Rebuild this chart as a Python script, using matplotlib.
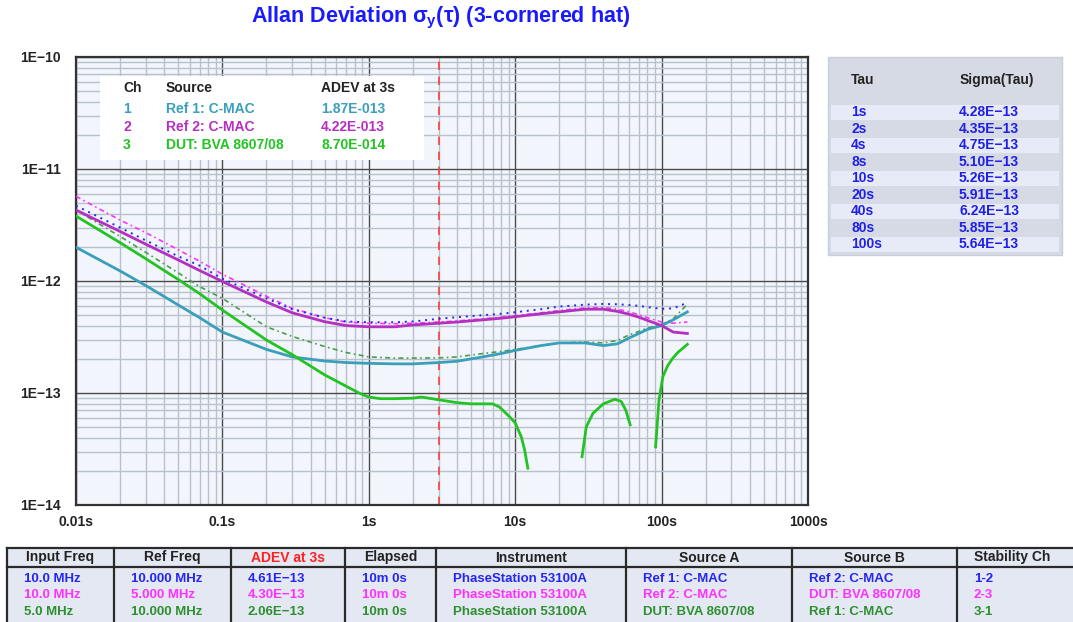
import numpy as np
import matplotlib.pyplot as plt
from matplotlib.patches import Rectangle
from matplotlib.ticker import FixedLocator, FixedFormatter, LogLocator, NullFormatter

plt.rcParams['font.family'] = ['Liberation Sans', 'DejaVu Sans']
plt.rcParams['font.weight'] = 'bold'
plt.rcParams['mathtext.fontset'] = 'custom'
plt.rcParams['mathtext.rm'] = 'Liberation Sans:bold'
plt.rcParams['mathtext.it'] = 'Liberation Sans:bold'
plt.rcParams['mathtext.bf'] = 'Liberation Sans:bold'

# ---- data ----
tau = [0.01, 0.02, 0.03, 0.05, 0.07, 0.1, 0.2, 0.3, 0.5, 0.7, 1, 1.5, 2, 3, 4, 6, 8,
       10, 15, 20, 30, 40, 50, 60, 70, 80, 100, 120, 150]

ch1_ref1 = [2.0e-12, 1.23e-12, 9.1e-13, 6.1e-13, 4.7e-13, 3.5e-13, 2.45e-13, 2.1e-13,
            1.93e-13, 1.87e-13, 1.84e-13, 1.82e-13, 1.82e-13, 1.87e-13, 1.92e-13, 2.1e-13,
            2.25e-13, 2.4e-13, 2.65e-13, 2.8e-13, 2.8e-13, 2.65e-13, 2.75e-13, 3.1e-13,
            3.4e-13, 3.7e-13, 4.0e-13, 4.5e-13, 5.3e-13]
ch2_ref2 = [4.3e-12, 2.77e-12, 2.13e-12, 1.54e-12, 1.24e-12, 9.9e-13, 6.5e-13, 5.2e-13,
            4.33e-13, 4.0e-13, 3.9e-13, 3.9e-13, 4.05e-13, 4.2e-13, 4.3e-13, 4.5e-13,
            4.65e-13, 4.8e-13, 5.1e-13, 5.3e-13, 5.6e-13, 5.6e-13, 5.35e-13, 5.05e-13,
            4.75e-13, 4.45e-13, 4.0e-13, 3.5e-13, 3.4e-13]
pair_12 = [4.7e-12, 3.0e-12, 2.3e-12, 1.66e-12, 1.37e-12, 1.05e-12, 7.0e-13, 5.6e-13,
           4.7e-13, 4.35e-13, 4.28e-13, 4.28e-13, 4.35e-13, 4.6e-13, 4.75e-13, 4.95e-13,
           5.1e-13, 5.26e-13, 5.6e-13, 5.91e-13, 6.15e-13, 6.24e-13, 6.2e-13, 6.1e-13,
           6.0e-13, 5.85e-13, 5.64e-13, 5.7e-13, 6.4e-13]
pair_23 = [5.7e-12, 3.5e-12, 2.7e-12, 1.9e-12, 1.5e-12, 1.15e-12, 7.3e-13, 5.7e-13,
           4.7e-13, 4.3e-13, 4.2e-13, 4.15e-13, 4.2e-13, 4.3e-13, 4.4e-13, 4.6e-13,
           4.75e-13, 4.9e-13, 5.2e-13, 5.45e-13, 5.75e-13, 5.8e-13, 5.6e-13, 5.3e-13,
           5.0e-13, 4.7e-13, 4.3e-13, 4.2e-13, 4.3e-13]
pair_31 = [4.3e-12, 2.5e-12, 1.8e-12, 1.18e-12, 8.9e-13, 7.0e-13, 3.9e-13, 3.2e-13,
           2.6e-13, 2.3e-13, 2.1e-13, 2.05e-13, 2.05e-13, 2.06e-13, 2.1e-13, 2.25e-13,
           2.35e-13, 2.45e-13, 2.65e-13, 2.8e-13, 2.85e-13, 2.8e-13, 2.95e-13, 3.3e-13,
           3.55e-13, 3.8e-13, 4.1e-13, 4.6e-13, 6.2e-13]

# DUT curve is broken into pieces
dut_tau_a = [0.01, 0.02, 0.03, 0.05, 0.07, 0.1, 0.2, 0.3, 0.5, 0.7, 0.87, 1, 1.2, 1.5,
             2, 2.3, 3, 4, 5, 7, 7.8, 9.2, 10, 11, 11.6, 12.2]
dut_val_a = [3.8e-12, 2.2e-12, 1.58e-12, 1.03e-12, 7.7e-13, 5.5e-13, 2.97e-13, 2.2e-13,
             1.45e-13, 1.15e-13, 9.9e-14, 9.2e-14, 8.9e-14, 8.9e-14, 9.0e-14, 9.2e-14,
             8.7e-14, 8.2e-14, 8.0e-14, 8.0e-14, 7.5e-14, 6.1e-14, 5.4e-14, 4.07e-14,
             3.1e-14, 2.13e-14]
dut_tau_b = [28.6, 30.6, 34, 40, 48, 53, 57, 61]
dut_val_b = [2.7e-14, 5.0e-14, 6.6e-14, 8.0e-14, 8.8e-14, 8.4e-14, 7.0e-14, 5.2e-14]
dut_tau_c = [91, 96, 102, 110, 119, 129, 150]
dut_val_c = [3.3e-14, 8.7e-14, 1.4e-13, 1.75e-13, 2.04e-13, 2.3e-13, 2.72e-13]

x_ticks = [0.01, 0.1, 1, 10, 100, 1000]
x_labels = ['0.01s', '0.1s', '1s', '10s', '100s', '1000s']
y_ticks = [1e-14, 1e-13, 1e-12, 1e-11, 1e-10]
y_labels = ['1E\u221214', '1E\u221213', '1E\u221212', '1E\u221211', '1E\u221210']

legend_rows = [('1', 'Ref 1: C-MAC', '1.87E-013'),
               ('2', 'Ref 2: C-MAC', '4.22E-013'),
               ('3', 'DUT: BVA 8607/08', '8.70E-014')]

tau_table = ['1s', '2s', '4s', '8s', '10s', '20s', '40s', '80s', '100s']
sigma_table = ['4.28E\u221213', '4.35E\u221213', '4.75E\u221213', '5.10E\u221213', '5.26E\u221213',
               '5.91E\u221213', '6.24E\u221213', '5.85E\u221213', '5.64E\u221213']

info_headers = ['Input Freq', 'Ref Freq', 'ADEV at 3s', 'Elapsed', 'Instrument',
                'Source A', 'Source B', 'Stability Ch']
info_rows = [
    ['10.0 MHz', '10.000 MHz', '4.61E\u221213', '10m 0s', 'PhaseStation 53100A',
     'Ref 1: C-MAC', 'Ref 2: C-MAC', '1-2'],
    ['10.0 MHz', '5.000 MHz', '4.30E\u221213', '10m 0s', 'PhaseStation 53100A',
     'Ref 2: C-MAC', 'DUT: BVA 8607/08', '2-3'],
    ['5.0 MHz', '10.000 MHz', '2.06E\u221213', '10m 0s', 'PhaseStation 53100A',
     'DUT: BVA 8607/08', 'Ref 1: C-MAC', '3-1'],
]

# colours
c_teal, c_purple, c_green = '#3a9fba', '#b52fc0', '#22c322'
c_blue, c_mag, c_dgreen = '#2626f0', '#ff30ff', '#2e8f2e'
row_colors = [c_blue, c_mag, c_dgreen]

W, H = 1073, 622
def fx(x):
    return x / W
def fy(y):
    return 1 - y / H

fig = plt.figure(figsize=(W / 100, H / 100), dpi=100)
fig.patch.set_facecolor('white')

ax = fig.add_axes([fx(76), fy(505), (808 - 76) / W, (505 - 57) / H])
ax.set_facecolor('#f2f6fc')
ax.set_xscale('log')
ax.set_yscale('log')
ax.set_xlim(0.01, 1000)
ax.set_ylim(1e-14, 1e-10)

ax.xaxis.set_major_locator(FixedLocator(x_ticks))
ax.xaxis.set_major_formatter(FixedFormatter(x_labels))
ax.yaxis.set_major_locator(FixedLocator(y_ticks))
ax.yaxis.set_major_formatter(FixedFormatter(y_labels))
ax.xaxis.set_minor_locator(LogLocator(base=10, subs=np.arange(2, 10), numticks=20))
ax.yaxis.set_minor_locator(LogLocator(base=10, subs=np.arange(2, 10), numticks=20))
ax.xaxis.set_minor_formatter(NullFormatter())
ax.yaxis.set_minor_formatter(NullFormatter())
ax.tick_params(which='both', length=0)
ax.tick_params(axis='x', pad=7, labelsize=10, colors='#222222')
ax.tick_params(axis='y', pad=11, labelsize=10, colors='#222222')
for lab in ax.get_xticklabels() + ax.get_yticklabels():
    lab.set_fontweight('bold')

ax.grid(which='minor', color='#b8c0cc', lw=1.0)
ax.grid(which='major', color='#4a4a4a', lw=1.0)
ax.set_axisbelow(True)
for sp in ax.spines.values():
    sp.set_color('#333333')
    sp.set_linewidth(1.6)

ax.axvline(3, color='#ff3b3b', lw=1.2, ls=(0, (5, 4)), zorder=2)

ax.plot(tau, pair_23, color=c_mag, lw=1.2, ls=(0, (3, 2, 1, 2)), zorder=3)
ax.plot(tau, pair_12, color=c_blue, lw=1.4, ls=(0, (1, 2.5)), zorder=3)
ax.plot(tau, pair_31, color='#4c9c4c', lw=1.2, ls=(0, (3, 2, 1, 2)), zorder=3)
ax.plot(tau, ch1_ref1, color=c_teal, lw=2.0, zorder=4)
ax.plot(tau, ch2_ref2, color=c_purple, lw=2.0, zorder=4)
ax.plot(dut_tau_a, dut_val_a, color=c_green, lw=2.0, zorder=4)
ax.plot(dut_tau_b, dut_val_b, color=c_green, lw=2.0, zorder=4)
ax.plot(dut_tau_c, dut_val_c, color=c_green, lw=2.0, zorder=4)

# title
fig.text(fx(441), fy(18), r'Allan Deviation $\sigma_{y}$(τ) (3-cornered hat)',
         ha='center', va='center', fontsize=15.5, fontweight='bold', color='#1a1aff')

# legend box inside the plot
fig.patches.append(Rectangle((fx(100), fy(160)), (424 - 100) / W, (160 - 76) / H,
                             transform=fig.transFigure, facecolor='white',
                             edgecolor='none', zorder=5))
leg_x = [123, 166, 321]
for x, t in zip(leg_x, ['Ch', 'Source', 'ADEV at 3s']):
    fig.text(fx(x), fy(88), t, ha='left', va='center', fontsize=10,
             fontweight='bold', color='#222222', zorder=6)
for i, (row, c) in enumerate(zip(legend_rows, [c_teal, c_purple, c_green])):
    for x, t in zip(leg_x, row):
        fig.text(fx(x), fy(109 + 18 * i), t, ha='left', va='center', fontsize=10,
                 fontweight='bold', color=c, zorder=6)

# tau / sigma panel on the right
fig.patches.append(Rectangle((fx(828), fy(255)), (1062 - 828) / W, (255 - 57) / H,
                             transform=fig.transFigure, facecolor='#d5dae5',
                             edgecolor='#c9ceda', lw=1, zorder=1))
fig.text(fx(851), fy(80), 'Tau', ha='left', va='center', fontsize=10,
         fontweight='bold', color='#222222')
fig.text(fx(960), fy(80), 'Sigma(Tau)', ha='left', va='center', fontsize=10,
         fontweight='bold', color='#222222')
for i, (t, s) in enumerate(zip(tau_table, sigma_table)):
    yc = 112.5 + 16.45 * i
    if i % 2 == 0:
        fig.patches.append(Rectangle((fx(831), fy(yc + 7.5)), (1059 - 831) / W, 15 / H,
                                     transform=fig.transFigure, facecolor='#e6ebf7',
                                     edgecolor='none', zorder=2))
    fig.text(fx(851), fy(yc), t, ha='left', va='center', fontsize=10,
             fontweight='bold', color='#2020e6', zorder=3)
    fig.text(fx(959), fy(yc), s, ha='left', va='center', fontsize=10,
             fontweight='bold', color='#2020e6', zorder=3)

# info table at the bottom
col_edges = [7, 114, 231, 345, 436, 626, 792, 957, 1090]
top, head_bot, bot = 548, 567, 630
fig.patches.append(Rectangle((fx(7), fy(bot)), (1090 - 7) / W, (bot - top) / H,
                             transform=fig.transFigure, facecolor='#e3e8f3',
                             edgecolor='none', zorder=1))
line_kw = dict(color='#2a2a2a', lw=1.6, transform=fig.transFigure, zorder=2)
fig.add_artist(plt.Line2D([fx(7), fx(1090)], [fy(top), fy(top)], **line_kw))
fig.add_artist(plt.Line2D([fx(7), fx(1090)], [fy(head_bot), fy(head_bot)], **line_kw))
for x in col_edges[:-1]:
    fig.add_artist(plt.Line2D([fx(x), fx(x)], [fy(top), fy(bot)], **line_kw))
for j, h in enumerate(info_headers):
    xc = (col_edges[j] + col_edges[j + 1]) / 2
    if j == len(info_headers) - 1:
        xc = 1012
    fig.text(fx(xc), fy(557.5), h, ha='center', va='center', fontsize=10,
             fontweight='bold', color='#ff2020' if h == 'ADEV at 3s' else '#222222')
for i, row in enumerate(info_rows):
    for j, t in enumerate(row):
        fig.text(fx(col_edges[j] + 17), fy(579 + 16.5 * i), t, ha='left', va='center',
                 fontsize=9.5, fontweight='bold', color=row_colors[i])

fig.savefig('out.png', dpi=100)
